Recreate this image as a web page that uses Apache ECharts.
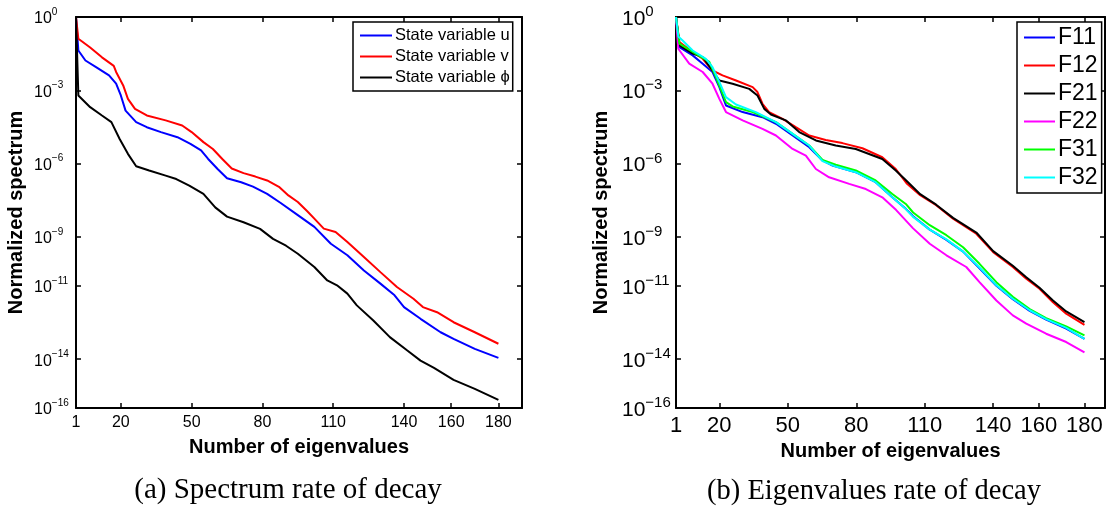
<!DOCTYPE html>
<html><head><meta charset="utf-8">
<script src="https://cdn.jsdelivr.net/npm/echarts@6/dist/echarts.min.js"></script>
<style>html,body{margin:0;padding:0;background:#fff}#c{width:1109px;height:510px}</style>
</head><body><div id="c"></div>
<script>
// ---- tick labels ----
const xTicks = [1, 20, 50, 80, 110, 140, 160, 180];
const yTickExps = [0, -3, -6, -9, -11, -14, -16];

// ---- left panel: spectrum (log10 of normalized value) ----
const uN = [1,2,5,9.5,15,18,20,22,26.5,31,37,44,49.5,54,57,61,65,71,76,82,87.6,95,102,109,116,123,130,136,140,147,155.5,161,170,180];
const uLog = [0,-1.37,-1.78,-2.05,-2.39,-2.73,-3.21,-3.83,-4.30,-4.51,-4.71,-4.92,-5.19,-5.46,-5.81,-6.22,-6.60,-6.76,-6.94,-7.24,-7.6,-8.11,-8.59,-9.28,-9.75,-10.37,-10.91,-11.39,-11.87,-12.35,-12.9,-13.17,-13.58,-13.95];
const vN = [1,2,7,12,17,18,21,23,26,31,39,46,50,55,59,63,67,72,77,82,87,91,95,99,102,106,111,116,123,130,137,144,148,154,161,170,180];
const vLog = [0,-0.89,-1.25,-1.65,-2.0,-2.25,-2.8,-3.35,-3.76,-4.03,-4.23,-4.44,-4.71,-5.12,-5.40,-5.81,-6.2,-6.39,-6.53,-6.69,-6.95,-7.3,-7.57,-7.95,-8.25,-8.66,-8.80,-9.21,-9.82,-10.44,-11.05,-11.53,-11.87,-12.08,-12.49,-12.9,-13.37];
const phiN = [1,2,7,12,16,19.5,23,26.5,32,39,43.5,49,55,60,65,72,79,84.5,90,95,102,107.5,111.6,116,120,127,134,141.4,147,152.7,161,170,180];
const phiLog = [0,-3.21,-3.69,-4.03,-4.30,-4.99,-5.60,-6.11,-6.28,-6.49,-6.63,-6.90,-7.24,-7.79,-8.17,-8.40,-8.67,-9.08,-9.36,-9.69,-10.23,-10.78,-10.98,-11.32,-11.80,-12.42,-13.1,-13.65,-14.06,-14.36,-14.85,-15.22,-15.67];

// ---- right panel: eigenvalues (log10 of normalized value) ----
const f11N = [1,2.5,8.3,12.7,17,20,22.9,30.2,38.9,44.8,52.1,59.4,65.2,69.6,79.8,88.5,95.8,101.7,104.9,112.2,119.5,126.8,134,141.4,148.6,156,163.2,172,180];
const f11Log = [0,-1.23,-1.57,-1.91,-2.25,-2.87,-3.62,-3.89,-4.10,-4.37,-4.85,-5.33,-5.87,-6.08,-6.35,-6.76,-7.38,-7.85,-8.15,-8.7,-9.12,-9.6,-10.28,-11.0,-11.55,-12.03,-12.38,-12.75,-13.17];
const f12N = [1,2.5,8.3,12.7,17,21.4,27.3,34.6,36.7,38.9,41.8,47.7,53.5,59.4,66.6,73.9,82.7,91.4,97.3,102,108,115,122.4,132.6,140,148.6,154.5,160.3,166.2,172,180];
const f12Log = [0,-1.02,-1.43,-1.71,-2.19,-2.39,-2.60,-2.87,-3.07,-3.55,-3.89,-4.17,-4.51,-4.85,-5.03,-5.16,-5.37,-5.74,-6.22,-6.8,-7.29,-7.70,-8.25,-8.87,-9.62,-10.23,-10.71,-11.12,-11.67,-12.14,-12.6];
const f21N = [1,2.5,8.3,12.7,17,20,25.8,33.1,36.7,39.7,42.6,49.1,55,62.3,71,79.8,91.4,97.3,102,108,115,122.4,132.6,140,148.6,154.5,160.3,166.2,172,180];
const f21Log = [0,-1.16,-1.50,-1.64,-2.19,-2.60,-2.73,-2.94,-3.21,-3.76,-3.99,-4.23,-4.71,-5.05,-5.26,-5.40,-5.81,-6.28,-6.7,-7.25,-7.68,-8.22,-8.82,-9.58,-10.18,-10.65,-11.08,-11.6,-12.05,-12.49];
const f22N = [1,2,6.8,12.7,17,20,22.9,30.2,38.9,44.8,52.1,57.9,62.3,68.1,76.9,84.2,91.4,97.5,104.9,112.2,119.5,128.2,134,141.4,148.6,154.5,163.2,172,180];
const f22Log = [0,-1.3,-1.91,-2.25,-2.73,-3.35,-3.89,-4.23,-4.58,-4.85,-5.40,-5.67,-6.22,-6.56,-6.83,-7.04,-7.38,-7.9,-8.65,-9.28,-9.75,-10.23,-10.85,-11.6,-12.21,-12.55,-12.96,-13.3,-13.72];
const f31N = [1,2.5,8.3,15.6,18.5,22.9,25.8,34.6,44.8,52.1,59.4,65.2,71,79.8,88.5,95.8,101.7,104.9,112.2,119.5,126.8,134,141.4,148.6,156,163.2,172,180];
const f31Log = [0,-1.09,-1.43,-1.84,-2.46,-3.48,-3.66,-3.89,-4.30,-4.78,-5.26,-5.85,-6.04,-6.28,-6.69,-7.24,-7.65,-8.0,-8.52,-8.93,-9.42,-10.1,-10.85,-11.45,-11.95,-12.32,-12.66,-13.03];
const f32N = [1,2,3.9,8.3,14.1,17,20,22.9,27.3,36,44.8,52.1,59.4,65.2,71,79.8,88.5,95.8,101.7,104.9,112.2,119.5,126.8,134,141.4,148.6,156,163.2,172,180];
const f32Log = [0,-0.8,-0.96,-1.37,-1.71,-2.05,-2.66,-3.28,-3.58,-3.89,-4.30,-4.78,-5.26,-5.90,-6.12,-6.35,-6.76,-7.38,-7.86,-8.18,-8.7,-9.1,-9.6,-10.25,-10.98,-11.53,-12.0,-12.36,-12.72,-13.17];

const pairs = (ns, logs) => ns.map((n, i) => [n, Math.pow(10, logs[i])]);
const yTickVals = yTickExps.map(e => Math.pow(10, e));

const FONT = 'Liberation Sans';
function supLabel(v) {
  const e = Math.round(Math.log10(v));
  return '{b|10}{s|' + (e < 0 ? '\u2212' + (-e) : String(e)) + '}';
}
function xAxisDef(gi, pos, max, fs, withLabels, nameGap) {
  return {
    type: 'value', gridIndex: gi, position: pos, min: 1, max: max,
    name: withLabels ? 'Number of eigenvalues' : '',
    nameLocation: 'middle', nameGap: nameGap,
    nameTextStyle: { fontFamily: FONT, fontWeight: 'bold', fontSize: 20, color: '#000' },
    axisLine: { show: true, onZero: false, lineStyle: { color: '#000', width: 2 } },
    axisTick: { show: true, inside: true, length: 5, customValues: xTicks, lineStyle: { color: '#000', width: 1.5 } },
    axisLabel: { show: withLabels, customValues: xTicks, margin: 7, fontFamily: FONT, fontSize: fs, color: '#000' },
    splitLine: { show: false }
  };
}
function yAxisDef(gi, pos, withLabels, fsB, fsS, margin, nameGap) {
  return {
    type: 'log', logBase: 10, gridIndex: gi, position: pos, min: 1e-16, max: 1,
    name: withLabels ? 'Normalized spectrum' : '',
    nameLocation: 'middle', nameGap: nameGap, nameRotate: 90,
    nameTextStyle: { fontFamily: FONT, fontWeight: 'bold', fontSize: 20, color: '#000' },
    axisLine: { show: true, onZero: false, lineStyle: { color: '#000', width: 2 } },
    axisTick: { show: true, inside: true, length: 5, customValues: yTickVals, lineStyle: { color: '#000', width: 1.5 } },
    axisLabel: {
      show: withLabels, customValues: yTickVals, margin: margin, align: 'left',
      formatter: supLabel,
      rich: {
        b: { fontFamily: FONT, fontSize: fsB, color: '#000', verticalAlign: 'bottom', lineHeight: fsB + 4 },
        s: { fontFamily: FONT, fontSize: fsS, color: '#000', verticalAlign: 'top', lineHeight: fsS }
      }
    },
    splitLine: { show: false }
  };
}
function line(name, data, color, xi, yi) {
  return { name: name, type: 'line', xAxisIndex: xi, yAxisIndex: yi, data: data, symbol: 'none',
    showSymbol: false, lineStyle: { color: color, width: 2 }, itemStyle: { color: color }, animation: false, z: 3 };
}

const chart = echarts.init(document.getElementById('c'), null, { renderer: 'canvas' });
chart.setOption({
  animation: false,
  backgroundColor: '#fff',
  grid: [
    { left: 76, top: 17, width: 446, height: 391, outerBoundsMode: 'none', containLabel: false },
    { left: 676, top: 17, width: 429, height: 391, outerBoundsMode: 'none', containLabel: false }
  ],
  xAxis: [
    xAxisDef(0, 'bottom', 190, 16, true, 29),
    xAxisDef(0, 'top', 190, 16, false, 0),
    xAxisDef(1, 'bottom', 189, 22, true, 30),
    xAxisDef(1, 'top', 189, 22, false, 0)
  ],
  yAxis: [
    yAxisDef(0, 'left', true, 16, 10, 42, 50),
    yAxisDef(0, 'right', false, 16, 10, 8, 0),
    yAxisDef(1, 'left', true, 21, 15, 54, 65),
    yAxisDef(1, 'right', false, 21, 15, 8, 0)
  ],
  legend: [
    { data: ['State variable u', 'State variable v', 'State variable \u03D5'], orient: 'vertical',
      left: 353, top: 22, padding: [5, 3, 5, 7], itemWidth: 32, itemHeight: 2, itemGap: 4, icon: 'rect',
      backgroundColor: '#fff', borderColor: '#000', borderWidth: 1.5, borderRadius: 0,
      textStyle: { fontFamily: FONT, fontSize: 16.5, color: '#000', padding: [0, 0, 0, -2] } },
    { data: ['F11', 'F12', 'F21', 'F22', 'F31', 'F32'], orient: 'vertical',
      left: 1017, top: 22, padding: [4, 4, 4, 7], itemWidth: 31, itemHeight: 2, itemGap: 5, icon: 'rect',
      backgroundColor: '#fff', borderColor: '#000', borderWidth: 1.5, borderRadius: 0,
      textStyle: { fontFamily: FONT, fontSize: 23, color: '#000', padding: [0, 0, 0, -2] } }
  ],
  series: [
    line('State variable u', pairs(uN, uLog), '#0000ff', 0, 0),
    line('State variable v', pairs(vN, vLog), '#ff0000', 0, 0),
    line('State variable \u03D5', pairs(phiN, phiLog), '#000000', 0, 0),
    line('F11', pairs(f11N, f11Log), '#0000ff', 2, 2),
    line('F12', pairs(f12N, f12Log), '#ff0000', 2, 2),
    line('F21', pairs(f21N, f21Log), '#000000', 2, 2),
    line('F22', pairs(f22N, f22Log), '#ff00ff', 2, 2),
    line('F31', pairs(f31N, f31Log), '#00ff00', 2, 2),
    line('F32', pairs(f32N, f32Log), '#00ffff', 2, 2)
  ],
  graphic: [
    { type: 'text', style: { text: '(a) Spectrum rate of decay', fontFamily: 'Liberation Serif', fontSize: 29, fill: '#000', x: 288, y: 490, align: 'center', verticalAlign: 'middle' } },
    { type: 'text', style: { text: '(b) Eigenvalues rate of decay', fontFamily: 'Liberation Serif', fontSize: 28.5, fill: '#000', x: 874, y: 492, align: 'center', verticalAlign: 'middle' } }
  ]
});
</script></body></html>
